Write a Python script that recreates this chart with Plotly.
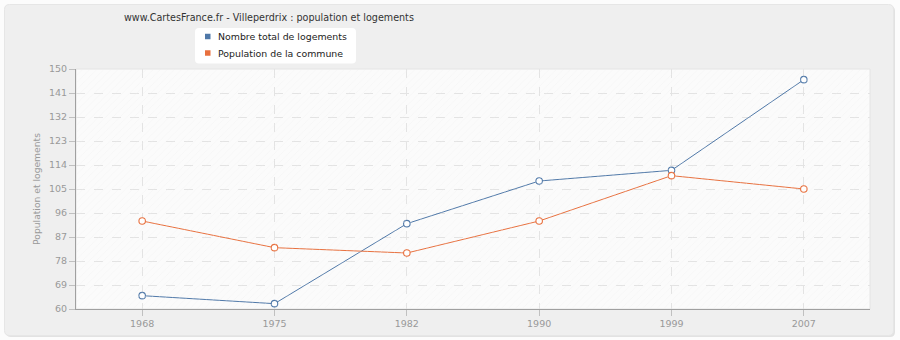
import plotly.graph_objects as go

years = ["1968", "1975", "1982", "1990", "1999", "2007"]
logements = [65, 62, 92, 108, 112, 146]
population = [93, 83, 81, 93, 110, 105]
y_ticks = [60, 69, 78, 87, 96, 105, 114, 123, 132, 141, 150]
series_names = ["Nombre total de logements", "Population de la commune"]
title_text = "www.CartesFrance.fr - Villeperdrix : population et logements"
y_title = "Population et logements"

blue = "#4f78a8"
orange = "#e8703e"
FONT = "DejaVu Sans"

W, H = 900, 340
L, R, T, B = 76, 870, 69, 309


def px(x):
    return (x - L) / (R - L)


def py(y):
    return (B - y) / (B - T)


def rounded(x0, y0, x1, y1, r):
    pts = [
        ("M", [(x0 + r, y0)]), ("L", [(x1 - r, y0)]), ("Q", [(x1, y0), (x1, y0 + r)]),
        ("L", [(x1, y1 - r)]), ("Q", [(x1, y1), (x1 - r, y1)]),
        ("L", [(x0 + r, y1)]), ("Q", [(x0, y1), (x0, y1 - r)]),
        ("L", [(x0, y0 + r)]), ("Q", [(x0, y0), (x0 + r, y0)]),
    ]
    s = ""
    for cmd, ps in pts:
        s += cmd + " " + " ".join(f"{px(a):.5f},{py(b):.5f}" for a, b in ps) + " "
    return s + "Z"


fig = go.Figure()

# hatch overlay of the plotting area (decoration)
fig.add_trace(go.Bar(
    x=[0.5], y=[1], width=[1], xaxis="x2", yaxis="y2", showlegend=False,
    hoverinfo="skip",
    marker=dict(color="rgba(0,0,0,0)", line=dict(width=0),
                pattern=dict(shape="/", size=5, solidity=0.12,
                             fgcolor="#ececec", bgcolor="rgba(0,0,0,0)", fillmode="overlay")),
))

for name, vals, col in [(series_names[0], logements, blue), (series_names[1], population, orange)]:
    fig.add_trace(go.Scatter(
        x=years, y=vals, mode="lines+markers", name=name, showlegend=False,
        line=dict(color=col, width=1),
        marker=dict(symbol="circle", size=6.5, color="white", line=dict(color=col, width=1.1)),
    ))

shapes = [
    dict(type="path", xref="paper", yref="paper", layer="below",
         path=rounded(6, 6, 895, 337, 5), line=dict(width=0), fillcolor="#e2e2e2"),
    dict(type="path", xref="paper", yref="paper", layer="below",
         path=rounded(4.5, 4.5, 893.5, 335.5, 5), line=dict(color="#e6e6e6", width=1),
         fillcolor="#efefef"),
    dict(type="rect", xref="paper", yref="paper", layer="below",
         x0=0, x1=1, y0=0, y1=1, line=dict(color="#e4e4e4", width=1), fillcolor="#fbfbfb"),
    # legend box
    dict(type="path", xref="paper", yref="paper", layer="above",
         path=rounded(195, 28, 356, 63.5, 4), line=dict(width=0), fillcolor="white"),
]
annotations = [
    dict(text=title_text, xref="paper", yref="paper", x=px(122), y=py(17),
         xanchor="left", yanchor="middle", showarrow=False,
         font=dict(family=FONT, size=9.6, color="#333333")),
]
for i, (name, col) in enumerate(zip(series_names, [blue, orange])):
    cy = 36.5 + 16.5 * i
    shapes.append(dict(type="rect", xref="paper", yref="paper", layer="above",
                       x0=px(205), x1=px(210.5), y0=py(cy - 2.75), y1=py(cy + 2.75),
                       line=dict(width=0), fillcolor=col))
    annotations.append(dict(text=name, xref="paper", yref="paper", x=px(216), y=py(cy),
                            xanchor="left", yanchor="middle", showarrow=False,
                            font=dict(family=FONT, size=9.4, color="#222222")))

fig.update_layout(
    width=W, height=H,
    margin=dict(l=L, r=W - R, t=T, b=H - B, autoexpand=False),
    paper_bgcolor="#fcfcfc",
    plot_bgcolor="rgba(0,0,0,0)",
    font=dict(family=FONT, size=9.5, color="#999999"),
    showlegend=False,
    shapes=shapes,
    annotations=annotations,
    bargap=0,
    xaxis=dict(type="category", range=[-0.5, 5.5], showgrid=True,
               gridcolor="#e3e3e3", griddash="dash", gridwidth=1,
               showline=True, linecolor="#a0a0a0", linewidth=1,
               ticks="outside", ticklen=6, tickcolor="#c0c0c0",
               tickfont=dict(family=FONT, size=9.5, color="#999999"), zeroline=False),
    yaxis=dict(range=[60, 150], tickvals=y_ticks, showgrid=True,
               gridcolor="#e3e3e3", griddash="dash", gridwidth=1,
               showline=True, linecolor="#a0a0a0", linewidth=1,
               ticks="outside", ticklen=6, tickcolor="#c0c0c0",
               tickfont=dict(family=FONT, size=9.5, color="#999999"), zeroline=False,
               title=dict(text=y_title, font=dict(family=FONT, size=9.2, color="#999999"),
                          standoff=6)),
    xaxis2=dict(overlaying="x", range=[0, 1], visible=False, fixedrange=True),
    yaxis2=dict(overlaying="y", range=[0, 1], visible=False, fixedrange=True),
)

fig.write_html("out.html")
